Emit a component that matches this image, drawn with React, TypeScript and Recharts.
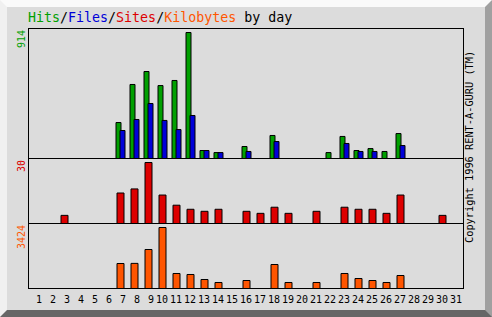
import React from 'react';
import { BarChart, Bar, XAxis, YAxis } from 'recharts';

const days = ['1', '2', '3', '4', '5', '6', '7', '8', '9', '10', '11', '12', '13', '14', '15', '16',
  '17', '18', '19', '20', '21', '22', '23', '24', '25', '26', '27', '28', '29', '30', '31'];
const hits = [0, 0, 0, 0, 0, 0, 261, 537, 631, 529, 566, 914, 58, 43, 0, 87, 0, 167, 0, 0, 0, 43, 160, 58, 72, 51, 181, 0, 0, 0, 0];
const files = [0, 0, 0, 0, 0, 0, 203, 283, 399, 276, 210, 312, 58, 43, 0, 51, 0, 123, 0, 0, 0, 0, 109, 51, 51, 0, 94, 0, 0, 0, 0];
const sites = [0, 0, 4, 0, 0, 0, 15, 17, 30, 14, 9, 7, 6, 7, 0, 6, 5, 8, 5, 0, 6, 0, 8, 7, 7, 5, 14, 0, 0, 4, 0];
const kbytes = [0, 0, 0, 0, 0, 0, 1403, 1410, 2189, 3424, 842, 786, 505, 337, 0, 449, 0, 1347, 337, 0, 337, 0, 842, 561, 449, 337, 729, 0, 0, 0, 0];

const hitsMax = 914;
const sitesMax = 30;
const kbytesMax = 3424;

const GREEN = '#00a000';
const BLUE = '#0000d8';
const RED = '#dd0000';
const ORANGE = '#ff5500';
const FONT = '"DejaVu Sans Mono", "Liberation Mono", monospace';

const data = days.map((day, i) => ({
  day,
  hits: hits[i],
  files: files[i],
  sites: sites[i],
  kbytes: kbytes[i],
}));

// day numbers are right aligned in a 2 character field, like "%2d"
const DayTick = (props: any) => {
  const { x, y, payload } = props;
  return (
    <text x={x + 6} y={y + 6} textAnchor="end" fontFamily={FONT} fontSize={10} fill="#000">
      {payload.value}
    </text>
  );
};

const App: React.FC = () => {
  return (
    <div
      style={{
        position: 'absolute',
        left: 0,
        top: 0,
        width: 492,
        height: 317,
        boxSizing: 'border-box',
        background: '#dcdcdc',
        borderStyle: 'solid',
        borderWidth: 7,
        borderColor: '#fafafa #a0a0a0 #666666 #f0f0f0',
      }}
    >
      <div style={{ position: 'absolute', left: -7, top: -7, width: 492, height: 317 }}>
        <svg width={492} height={317} style={{ position: 'absolute', left: 0, top: 0 }}>
          <text x={28} y={22} fontFamily={FONT} fontSize={13.3}>
            <tspan fill={GREEN}>Hits</tspan>
            <tspan fill="#000">/</tspan>
            <tspan fill={BLUE}>Files</tspan>
            <tspan fill="#000">/</tspan>
            <tspan fill={RED}>Sites</tspan>
            <tspan fill="#000">/</tspan>
            <tspan fill={ORANGE}>Kilobytes</tspan>
            <tspan fill="#000"> by day</tspan>
          </text>
          <rect x={28.5} y={28.5} width={435} height={260} fill="none" stroke="#000" />
          <line x1={28} x2={464} y1={158.5} y2={158.5} stroke="#000" />
          <line x1={28} x2={464} y1={223.5} y2={223.5} stroke="#000" />
          <text transform="translate(25,30) rotate(-90)" textAnchor="end" fontFamily={FONT} fontSize={10} fill={GREEN}>
            {hitsMax}
          </text>
          <text transform="translate(25,160) rotate(-90)" textAnchor="end" fontFamily={FONT} fontSize={10} fill={RED}>
            {sitesMax}
          </text>
          <text transform="translate(25,225) rotate(-90)" textAnchor="end" fontFamily={FONT} fontSize={10} fill={ORANGE}>
            {kbytesMax}
          </text>
          <text transform="translate(473,243) rotate(-90)" textAnchor="start" fontFamily={FONT} fontSize={10.3} fill="#000">
            Copyright 1996 RENT-A-GURU (TM)
          </text>
        </svg>

        {/* hits and files */}
        <div style={{ position: 'absolute', left: 29, top: 30 }}>
          <BarChart width={434} height={129} data={data} margin={{ top: 2.5, right: 0, bottom: 0.5, left: 0 }} barGap={-1}>
            <XAxis dataKey="day" hide />
            <YAxis hide domain={[0, hitsMax]} />
            <Bar dataKey="hits" fill={GREEN} stroke="#000" strokeWidth={1} barSize={5} isAnimationActive={false} />
            <Bar dataKey="files" fill={BLUE} stroke="#000" strokeWidth={1} barSize={5} isAnimationActive={false} />
          </BarChart>
        </div>

        {/* sites */}
        <div style={{ position: 'absolute', left: 29, top: 160 }}>
          <BarChart width={434} height={64} data={data} margin={{ top: 2.5, right: 0, bottom: 0.5, left: 0 }}>
            <XAxis dataKey="day" hide />
            <YAxis hide domain={[0, sitesMax]} />
            <Bar dataKey="sites" fill={RED} stroke="#000" strokeWidth={1} barSize={7} isAnimationActive={false} />
          </BarChart>
        </div>

        {/* kilobytes */}
        <div style={{ position: 'absolute', left: 29, top: 225 }}>
          <BarChart width={434} height={84} data={data} margin={{ top: 2.5, right: 0, bottom: 0.5, left: 0 }}>
            <XAxis dataKey="day" height={20} axisLine={false} tickLine={false} interval={0} tick={<DayTick />} />
            <YAxis hide domain={[0, kbytesMax]} />
            <Bar dataKey="kbytes" fill={ORANGE} stroke="#000" strokeWidth={1} barSize={7} isAnimationActive={false} />
          </BarChart>
        </div>
      </div>
    </div>
  );
};

export default App;
